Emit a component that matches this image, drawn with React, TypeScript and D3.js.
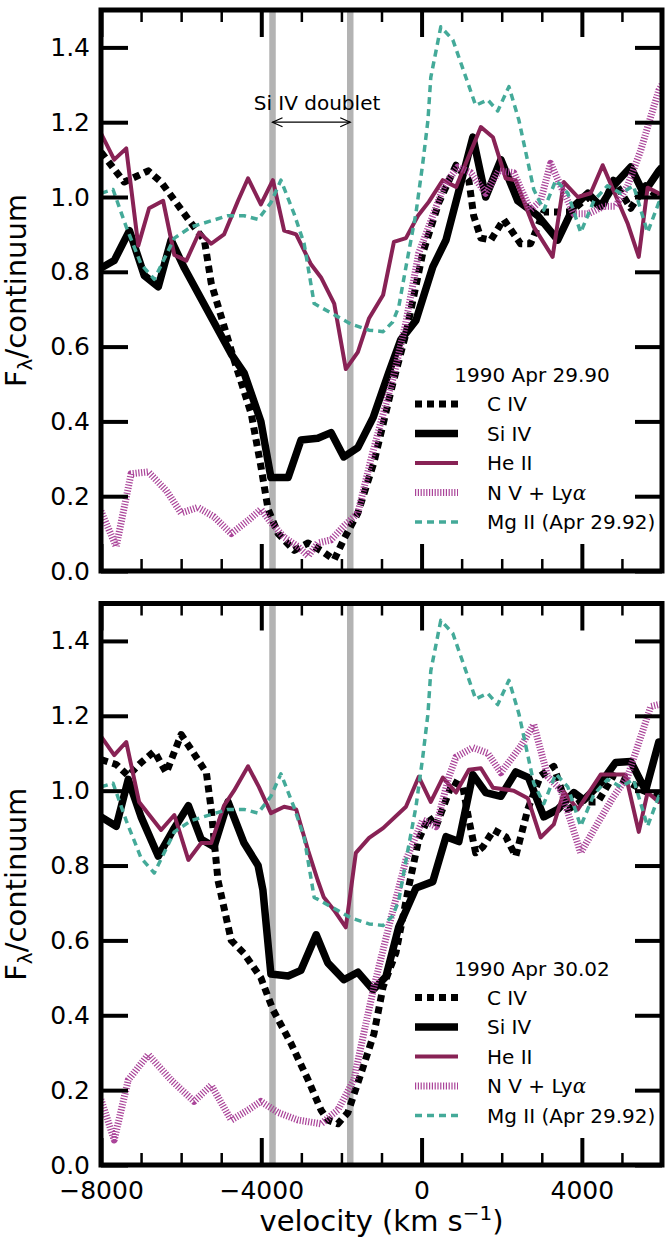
import React, { useRef, useEffect } from "react";
import * as d3 from "d3";

const W = 671;
const H = 1241;

// [velocity km/s, F/continuum]
const civTop: [number, number][] = [
  [-8000, 1.12], [-7420, 1.04], [-6820, 1.07], [-6500, 1.04], [-5750, 0.93], [-5420, 0.885],
  [-5250, 0.77], [-4680, 0.565], [-4250, 0.42], [-4010, 0.28], [-3830, 0.165], [-3580, 0.1],
  [-3180, 0.055], [-2830, 0.075], [-2440, 0.05], [-2180, 0.03], [-1940, 0.085], [-1590, 0.155],
  [-1190, 0.29], [-720, 0.5], [-390, 0.635], [30, 0.85], [430, 0.985], [860, 1.085], [1180, 1.045],
  [1300, 0.95], [1480, 0.89], [1730, 0.885], [2050, 0.94], [2470, 0.875], [2720, 0.875], [3050, 0.96],
  [3720, 0.96], [4150, 1.0], [4500, 0.97], [4790, 1.045], [5220, 0.97], [5590, 1.03], [6000, 0.99],
];
const siivTop: [number, number][] = [
  [-8000, 0.81], [-7670, 0.83], [-7290, 0.91], [-6920, 0.79], [-6570, 0.76], [-6250, 0.885],
  [-5920, 0.81], [-4750, 0.58], [-4430, 0.53], [-4010, 0.4], [-3760, 0.25], [-3330, 0.25],
  [-3010, 0.35], [-2590, 0.355], [-2260, 0.37], [-1940, 0.305], [-1590, 0.33], [-1210, 0.41],
  [-820, 0.53], [-520, 0.618], [-140, 0.67], [280, 0.813], [610, 0.885], [1280, 1.16], [1600, 1.0],
  [1980, 1.1], [2400, 0.99], [2900, 0.95], [3400, 0.885], [3800, 0.975], [4150, 1.01], [4470, 0.975],
  [4790, 1.03], [5220, 1.08], [5540, 1.01], [5920, 1.07], [6000, 1.08],
];
const heiiTop: [number, number][] = [
  [-8000, 1.17], [-7670, 1.1], [-7370, 1.13], [-7070, 0.87], [-6800, 0.97], [-6450, 0.99],
  [-6170, 0.845], [-5870, 0.83], [-5550, 0.905], [-5250, 0.875], [-4930, 0.9], [-4580, 0.99],
  [-4330, 1.05], [-4010, 0.98], [-3710, 1.045], [-3430, 0.91], [-3130, 0.9], [-2760, 0.82],
  [-2510, 0.785], [-2180, 0.715], [-1890, 0.54], [-1590, 0.585], [-1310, 0.676], [-960, 0.738],
  [-690, 0.88], [-390, 0.89], [-90, 0.95], [180, 0.987], [530, 1.045], [860, 1.027], [1480, 1.187],
  [1780, 1.16], [2100, 1.05], [2350, 1.045], [2800, 0.92], [3270, 0.84], [3550, 1.04], [3900, 1.0],
  [4220, 1.01], [4520, 1.085], [5140, 0.93], [5420, 0.84], [5640, 1.025], [5920, 1.01], [6000, 1.0],
];
const nvTop: [number, number][] = [
  [-8000, 0.16], [-7620, 0.065], [-7250, 0.26], [-6820, 0.265], [-6370, 0.215], [-6000, 0.155],
  [-5580, 0.17], [-5180, 0.145], [-4750, 0.1], [-4330, 0.135], [-4010, 0.165], [-3760, 0.13],
  [-3430, 0.09], [-3080, 0.065], [-2830, 0.04], [-2590, 0.075], [-2260, 0.083], [-1940, 0.12],
  [-1590, 0.155], [-1260, 0.3], [-1010, 0.4], [-700, 0.52], [-400, 0.66], [-70, 0.85], [560, 1.03],
  [900, 1.08], [1230, 1.065], [1600, 1.01], [1930, 1.07], [2300, 1.065], [2720, 0.965], [2970, 0.99],
  [3220, 1.09], [3470, 1.03], [3800, 0.955], [4150, 0.955], [4550, 0.975], [4840, 0.975], [5140, 1.03],
  [5470, 1.125], [5720, 1.215], [5920, 1.285], [6000, 1.3],
];
// Mg II spectrum (Apr 29.92) is shown in both panels
const mgii: [number, number][] = [
  [-8000, 1.01], [-7700, 1.02], [-7370, 0.92], [-7000, 0.82], [-6670, 0.78], [-6170, 0.89],
  [-5750, 0.92], [-4830, 0.95], [-4430, 0.95], [-4080, 0.94], [-3760, 0.985], [-3510, 1.045],
  [-3180, 0.955], [-2930, 0.875], [-2680, 0.715], [-2260, 0.69], [-1760, 0.66], [-1310, 0.644],
  [-960, 0.64], [-720, 0.666], [-570, 0.706], [-390, 0.813], [-140, 0.957], [30, 1.09], [160, 1.206],
  [230, 1.32], [480, 1.455], [780, 1.42], [1350, 1.245], [1650, 1.26], [1900, 1.23], [2180, 1.295],
  [2430, 1.205], [2800, 1.02], [3050, 0.965], [3350, 1.045], [3650, 1.01], [3970, 0.905], [4300, 0.99],
  [4640, 1.03], [4970, 1.01], [5290, 1.03], [5640, 0.905], [5920, 0.985], [6000, 0.97],
];
const civBot: [number, number][] = [
  [-8000, 1.083], [-7620, 1.07], [-7320, 1.04], [-7000, 1.075], [-6670, 1.105], [-6370, 1.048],
  [-6000, 1.15], [-5750, 1.11], [-5370, 1.048], [-5250, 0.95], [-5080, 0.76], [-4750, 0.6],
  [-4430, 0.565], [-4010, 0.5], [-3710, 0.415], [-3260, 0.325], [-2830, 0.227], [-2510, 0.147],
  [-2340, 0.12], [-2090, 0.11], [-1840, 0.14], [-1510, 0.245], [-1190, 0.35], [-960, 0.476],
  [-640, 0.567], [-320, 0.743], [-70, 0.87], [180, 0.93], [360, 0.904], [780, 1.024], [1030, 1.01],
  [1180, 0.922], [1350, 0.834], [1530, 0.85], [1800, 0.895], [2100, 0.877], [2350, 0.825], [2650, 0.95],
  [2970, 1.04], [3300, 1.065], [3650, 0.95], [3970, 0.97], [4400, 0.97], [4790, 1.04], [5220, 1.02],
  [5540, 1.0], [5890, 0.985], [6000, 0.98],
];
const siivBot: [number, number][] = [
  [-8000, 0.93], [-7620, 0.905], [-7320, 1.03], [-7000, 0.93], [-6570, 0.825], [-6200, 0.895],
  [-5820, 0.96], [-5500, 0.87], [-5180, 0.85], [-4830, 0.97], [-4430, 0.86], [-4080, 0.8],
  [-3960, 0.735], [-3760, 0.51], [-3330, 0.505], [-3010, 0.52], [-2630, 0.615], [-2340, 0.54],
  [-1940, 0.495], [-1590, 0.515], [-1210, 0.468], [-890, 0.503], [-570, 0.636], [-140, 0.74],
  [280, 0.757], [610, 0.877], [930, 0.864], [1280, 1.043], [1600, 0.995], [1980, 0.985], [2350, 1.05],
  [2670, 1.035], [3050, 0.93], [3400, 0.95], [3800, 0.995], [4050, 0.975], [4470, 1.02], [4840, 1.075],
  [5220, 1.078], [5590, 1.0], [5920, 1.13], [6000, 1.13],
];
const heiiBot: [number, number][] = [
  [-8000, 1.145], [-7670, 1.095], [-7370, 1.13], [-7050, 0.97], [-6500, 0.895], [-6170, 0.935],
  [-5820, 0.815], [-5500, 0.86], [-5250, 0.86], [-4930, 0.96], [-4680, 1.0], [-4330, 1.065],
  [-4060, 1.01], [-3760, 0.94], [-3430, 0.957], [-3130, 0.95], [-2830, 0.84], [-2590, 0.76],
  [-2440, 0.715], [-2180, 0.68], [-1890, 0.635], [-1640, 0.834], [-1310, 0.874], [-960, 0.9],
  [-390, 0.957], [-70, 1.037], [230, 0.97], [530, 1.035], [860, 0.995], [1180, 1.056], [1480, 1.06],
  [1780, 1.008], [2300, 1.0], [2650, 0.98], [2970, 0.875], [3300, 0.91], [3550, 0.997], [3900, 0.95],
  [4470, 1.043], [5090, 1.043], [5420, 0.89], [5640, 0.995], [5920, 0.97], [6000, 0.975],
];
const nvBot: [number, number][] = [
  [-8000, 0.175], [-7670, 0.067], [-7320, 0.227], [-6820, 0.295], [-6250, 0.227], [-5680, 0.17],
  [-5250, 0.213], [-4750, 0.12], [-4330, 0.147], [-4010, 0.17], [-3580, 0.14], [-3080, 0.12],
  [-2510, 0.11], [-2090, 0.147], [-1690, 0.227], [-1440, 0.353], [-1190, 0.475], [-820, 0.636],
  [-390, 0.815], [30, 0.922], [360, 0.904], [680, 1.037], [860, 1.09], [1280, 1.115], [1650, 1.1],
  [1980, 1.048], [2470, 1.118], [2800, 1.177], [3150, 1.037], [3470, 1.003], [3970, 0.834],
  [4400, 0.914], [4790, 0.984], [5140, 1.037], [5470, 1.144], [5720, 1.225], [5920, 1.23], [6000, 1.23],
];

const panelDates = ["1990 Apr 29.90", "1990 Apr 30.02"];
const seriesNames = ["C IV", "Si IV", "He II", "N V + Ly", "Mg II (Apr 29.92)"];
const yTicks = [0, 0.2, 0.4, 0.6, 0.8, 1.0, 1.2, 1.4];
const xMajor = [-8000, -4000, 0, 4000];
const xMinor = [-7000, -6000, -5000, -3000, -2000, -1000, 1000, 2000, 3000, 5000];
const doublet = [-3720, -1780];
const arrowLevel = 1.2;

const lineStyles = [
  { color: "#000000", width: 7, dash: "7,5" },
  { color: "#000000", width: 7.5, dash: null },
  { color: "#882255", width: 4, dash: null },
  { color: "#AA4499", width: 7, dash: "1.2,1.6" },
  { color: "#44AA99", width: 3.5, dash: "7,5" },
];

const FONT = "DejaVu Sans";

export default function App() {
  const svgRef = useRef<SVGSVGElement>(null);

  useEffect(() => {
    const svg = d3.select(svgRef.current);
    svg.selectAll("*").remove();

    const x = d3.scaleLinear().domain([-8000, 6000]).range([101, 662]);
    const x0 = x(-8000);
    const x1 = x(6000);

    const panels = [
      { top: 10, bottom: 571, series: [civTop, siivTop, heiiTop, nvTop, mgii], labels: false, arrow: true },
      { top: 603.5, bottom: 1165, series: [civBot, siivBot, heiiBot, nvBot, mgii], labels: true, arrow: false },
    ];

    const defs = svg.append("defs");

    panels.forEach((p, i) => {
      const y = d3.scaleLinear().domain([0, 1.5]).range([p.bottom, p.top]);
      const g = svg.append("g");
      const clipId = `clip-${i}`;
      defs.append("clipPath").attr("id", clipId)
        .append("rect")
        .attr("x", x0).attr("y", p.top)
        .attr("width", x1 - x0).attr("height", p.bottom - p.top);

      // Si IV doublet markers
      doublet.forEach(v => {
        g.append("line")
          .attr("x1", x(v)).attr("x2", x(v))
          .attr("y1", p.top).attr("y2", p.bottom)
          .attr("stroke", "#b3b3b3")
          .attr("stroke-width", 6.5);
      });

      const line = d3.line<[number, number]>().x(d => x(d[0])).y(d => y(d[1]));
      const plot = g.append("g").attr("clip-path", `url(#${clipId})`);
      p.series.forEach((s, k) => {
        const st = lineStyles[k];
        plot.append("path")
          .attr("d", line(s))
          .attr("fill", "none")
          .attr("stroke", st.color)
          .attr("stroke-width", st.width)
          .attr("stroke-linejoin", "round")
          .attr("stroke-dasharray", st.dash)
          .attr("stroke-linecap", "butt");
      });

      // axes (ticks point inward)
      const styleAxis = (a: any, w: number) => {
        a.select(".domain").remove();
        a.selectAll("line").attr("stroke", "#000").attr("stroke-width", w);
        a.selectAll("text").attr("font-family", FONT).attr("font-size", 25).attr("fill", "#000");
      };
      g.append("g").attr("transform", `translate(${x0},0)`)
        .call(d3.axisLeft(y).tickValues(yTicks).tickSize(-27).tickPadding(11).tickFormat(d3.format(".1f")))
        .call(a => styleAxis(a, 4));
      g.append("g").attr("transform", `translate(${x1},0)`)
        .call(d3.axisRight(y).tickValues(yTicks).tickSize(-27).tickFormat(() => ""))
        .call(a => styleAxis(a, 4));
      g.append("g").attr("transform", `translate(0,${p.top})`)
        .call(d3.axisTop(x).tickValues(xMajor).tickSize(-27).tickFormat(() => ""))
        .call(a => styleAxis(a, 4));
      g.append("g").attr("transform", `translate(0,${p.top})`)
        .call(d3.axisTop(x).tickValues(xMinor).tickSize(-12).tickFormat(() => ""))
        .call(a => styleAxis(a, 2.5));
      g.append("g").attr("transform", `translate(0,${p.bottom})`)
        .call(d3.axisBottom(x).tickValues(xMajor).tickSize(-27).tickPadding(16)
          .tickFormat(p.labels ? (d => String(d).replace("-", "\u2212")) : () => ""))
        .call(a => styleAxis(a, 4));
      g.append("g").attr("transform", `translate(0,${p.bottom})`)
        .call(d3.axisBottom(x).tickValues(xMinor).tickSize(-12).tickFormat(() => ""))
        .call(a => styleAxis(a, 2.5));

      // frame
      g.append("rect")
        .attr("x", x0).attr("y", p.top)
        .attr("width", x1 - x0).attr("height", p.bottom - p.top)
        .attr("fill", "none").attr("stroke", "#000").attr("stroke-width", 5);

      // y label
      const yl = g.append("text")
        .attr("transform", `translate(26,${(p.top + p.bottom) / 2}) rotate(-90)`)
        .attr("text-anchor", "middle")
        .attr("font-family", FONT).attr("font-size", 29);
      yl.append("tspan").text("F");
      yl.append("tspan").attr("font-size", 20).attr("dy", 6).text("\u03bb");
      yl.append("tspan").attr("dy", -6).text("/continuum");

      // legend
      const lg = g.append("g").attr("font-family", FONT).attr("font-size", 20);
      lg.append("text").attr("x", 532).attr("y", p.top + 372).attr("text-anchor", "middle").text(panelDates[i]);
      seriesNames.forEach((name, k) => {
        const cy = p.top + 394 + k * 29.5;
        const st = lineStyles[k];
        lg.append("line")
          .attr("x1", 415).attr("x2", 458).attr("y1", cy).attr("y2", cy)
          .attr("stroke", st.color).attr("stroke-width", st.width)
          .attr("stroke-dasharray", st.dash);
        const t = lg.append("text").attr("x", 487).attr("y", cy + 7).text(name);
        if (k === 3) t.append("tspan").attr("font-style", "italic").attr("font-family", "DejaVu Serif").text("\u03b1");
      });

      if (p.arrow) {
        const ay = y(arrowLevel);
        const ax0 = x(doublet[0]);
        const ax1 = x(doublet[1]);
        const ag = g.append("g").attr("stroke", "#000").attr("stroke-width", 1.2).attr("fill", "none");
        ag.append("line").attr("x1", ax0).attr("x2", ax1).attr("y1", ay).attr("y2", ay);
        ag.append("path").attr("d", `M${ax0 + 10},${ay - 4.5}L${ax0},${ay}L${ax0 + 10},${ay + 4.5}`);
        ag.append("path").attr("d", `M${ax1 - 10},${ay - 4.5}L${ax1},${ay}L${ax1 - 10},${ay + 4.5}`);
        g.append("text")
          .attr("x", 317).attr("y", ay - 12)
          .attr("text-anchor", "middle")
          .attr("font-family", FONT).attr("font-size", 20)
          .text("Si IV doublet");
      }
    });

    // x label
    const xl = svg.append("text")
      .attr("x", (x0 + x1) / 2).attr("y", 1231)
      .attr("text-anchor", "middle")
      .attr("font-family", FONT).attr("font-size", 29);
    xl.append("tspan").text("velocity (km s");
    xl.append("tspan").attr("font-size", 20).attr("dy", -11).text("\u22121");
    xl.append("tspan").attr("dy", 11).text(")");
  }, []);

  return (
    <div style={{ position: "absolute", left: 0, top: 0 }}>
      <svg ref={svgRef} width={W} height={H} style={{ display: "block", background: "#fff" }}></svg>
    </div>
  );
}
